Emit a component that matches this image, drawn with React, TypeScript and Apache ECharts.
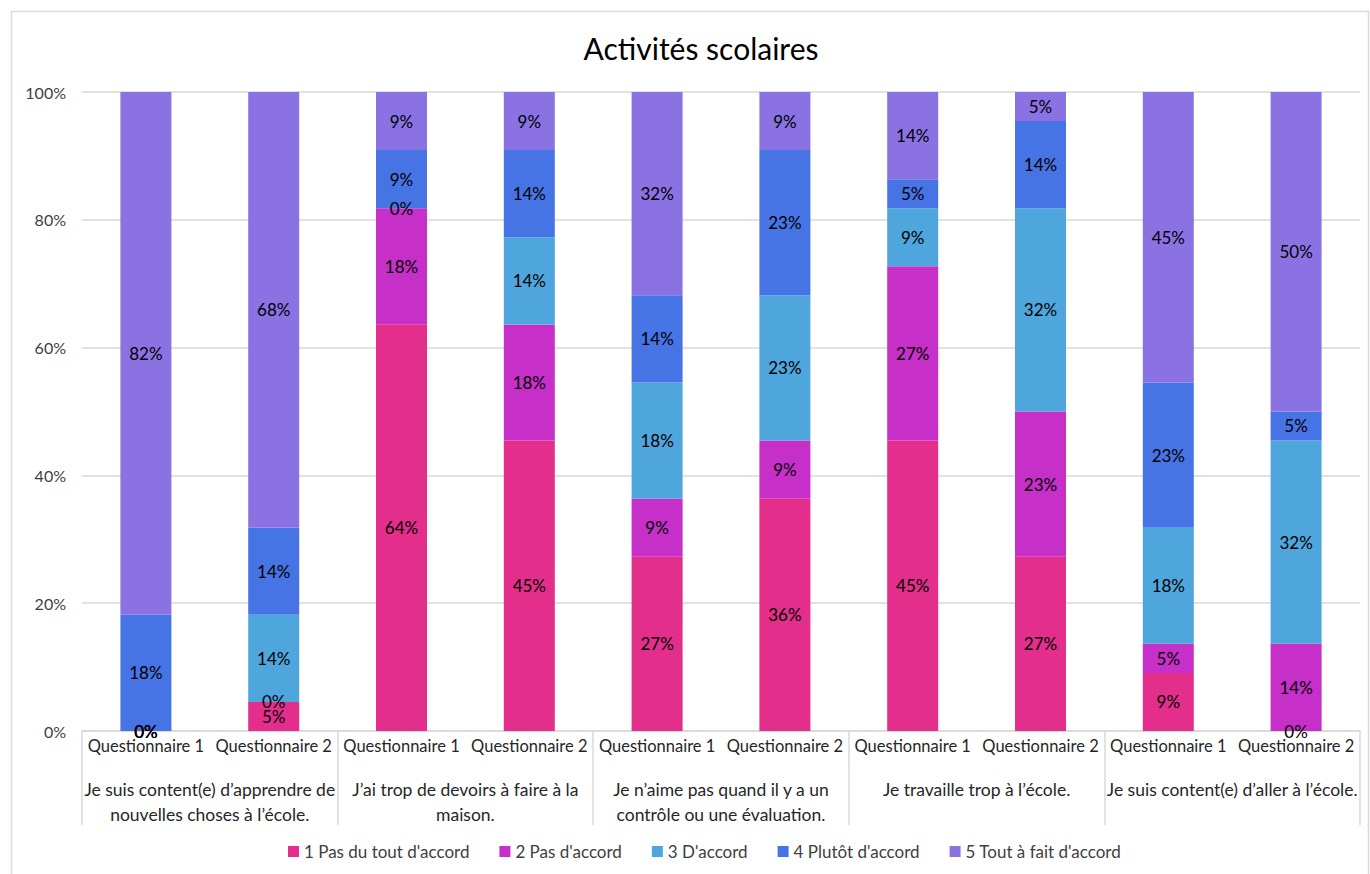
import React, { useEffect, useRef } from "react";
import * as echarts from "echarts";

const titleText = "Activités scolaires";
const questionnaires = [
  "Questionnaire 1", "Questionnaire 2",
  "Questionnaire 1", "Questionnaire 2",
  "Questionnaire 1", "Questionnaire 2",
  "Questionnaire 1", "Questionnaire 2",
  "Questionnaire 1", "Questionnaire 2",
];
const statements = [
  "Je suis content(e) d’apprendre de\nnouvelles choses à l’école.",
  "J’ai trop de devoirs à faire à la\nmaison.",
  "Je n’aime pas quand il y a un\ncontrôle ou une évaluation.",
  "Je travaille trop à l’école.",
  "Je suis content(e) d’aller à l’école.",
];
const seriesNames = [
  "1 Pas du tout d'accord",
  "2 Pas d'accord",
  "3 D'accord",
  "4 Plutôt d'accord",
  "5 Tout à fait d'accord",
];
const pasDuTout = [0, 4.55, 63.64, 45.45, 27.27, 36.36, 45.45, 27.27, 9.09, 0];
const pasDaccord = [0, 0, 18.18, 18.18, 9.09, 9.09, 27.27, 22.73, 4.55, 13.64];
const daccord = [0, 13.64, 0, 13.64, 18.18, 22.73, 9.09, 31.82, 18.18, 31.82];
const plutot = [18.18, 13.64, 9.09, 13.64, 13.64, 22.73, 4.55, 13.64, 22.73, 4.55];
const toutAFait = [81.82, 68.18, 9.09, 9.09, 31.82, 9.09, 13.64, 4.55, 45.45, 50];
const seriesValues = [pasDuTout, pasDaccord, daccord, plutot, toutAFait];
const colors = ["#E32E8C", "#C62FC8", "#4EA6DC", "#4674E5", "#8A72E3"];

const FONT = "Lato, 'Liberation Sans', sans-serif";

export default function App() {
  const ref = useRef<HTMLDivElement>(null);
  useEffect(() => {
    if (!ref.current) return;
    const chart = echarts.init(ref.current, undefined, { renderer: "svg" });
    chart.setOption({
      animation: false,
      textStyle: { fontFamily: FONT },
      title: {
        text: titleText,
        left: 696,
        textAlign: "center",
        top: 28,
        textStyle: { fontSize: 30, fontWeight: "normal", color: "#000", fontFamily: FONT },
      },
      graphic: [
        {
          type: "rect",
          shape: { x: 11.5, y: 11.5, width: 1357, height: 875 },
          style: { fill: "none", stroke: "#d9d9d9", lineWidth: 1.5 },
          silent: true,
        },
      ],
      legend: {
        top: 838,
        left: 283,
        itemWidth: 11,
        itemHeight: 11,
        itemGap: 30,
        icon: "rect",
        textStyle: { fontSize: 17, color: "#404040", fontFamily: FONT },
        data: seriesNames,
      },
      grid: { left: 82, right: 10, top: 92, bottom: 143 },
      xAxis: [
        {
          type: "category",
          position: "bottom",
          data: questionnaires,
          axisLine: { lineStyle: { color: "#d9d9d9", width: 1.5 } },
          axisTick: { show: false },
          axisLabel: {
            interval: 0,
            margin: 5,
            fontSize: 16.5,
            lineHeight: 20,
            color: "#262626",
            fontFamily: FONT,
          },
        },
        {
          type: "category",
          position: "bottom",
          offset: 0,
          data: statements,
          axisLine: { show: false },
          axisTick: {
            show: true,
            interval: 0,
            length: 94,
            alignWithLabel: false,
            lineStyle: { color: "#d9d9d9", width: 1.5 },
          },
          axisLabel: {
            interval: 0,
            margin: 46,
            fontSize: 17.5,
            lineHeight: 25,
            color: "#262626",
            fontFamily: FONT,
            verticalAlign: "top",
          },
        },
      ],
      yAxis: {
        type: "value",
        min: 0,
        max: 100,
        interval: 20,
        axisLine: { show: false },
        axisTick: { show: false },
        axisLabel: {
          formatter: "{value}%",
          fontSize: 16,
          color: "#404040",
          margin: 16,
          fontFamily: FONT,
        },
        splitLine: { lineStyle: { color: "#d9d9d9", width: 1.5 } },
      },
      series: seriesNames.map((name, i) => ({
        name,
        type: "bar",
        stack: "total",
        xAxisIndex: 0,
        barWidth: 51,
        data: seriesValues[i],
        itemStyle: { color: colors[i] },
        label: {
          show: true,
          position: "inside",
          formatter: (p: any) => Math.round(p.value) + "%",
          fontSize: 17,
          color: "#000",
          fontFamily: FONT,
        },
      })),
    });
    return () => chart.dispose();
  }, []);
  return (
    <div
      ref={ref}
      style={{ position: "fixed", left: 0, top: 0, width: 1370, height: 874, background: "#fff" }}
    />
  );
}
